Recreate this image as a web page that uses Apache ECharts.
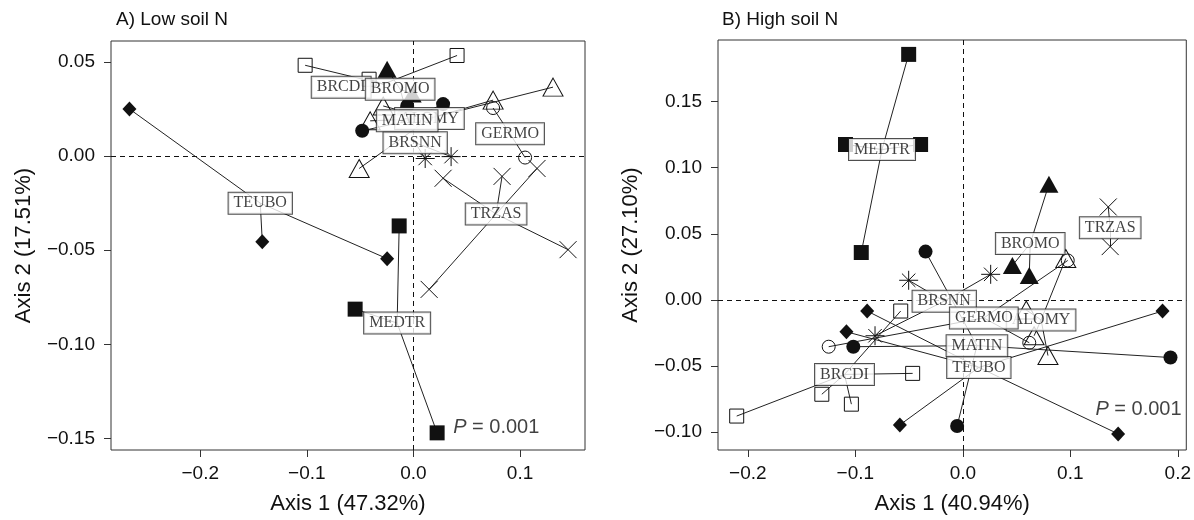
<!DOCTYPE html>
<html><head><meta charset="utf-8">
<script src="https://cdn.jsdelivr.net/npm/echarts@6/dist/echarts.min.js"></script>
<style>html,body{margin:0;padding:0;background:#fff}#c{width:1194px;height:520px}</style>
</head><body><div id="c"></div>
<script>
// ---------- DATA ----------
const species = ['ALOMY','BRCDI','BROMO','BRSNN','GERMO','MATIN','MEDTR','TEUBO','TRZAS'];

// A) Low soil N : species centroids (spoke centres) and label positions
const lowCentX  = [0.0150, -0.0284, -0.0125, 0.0016, 0.0906, -0.0059, -0.0153, -0.1437, 0.0775];
const lowCentY  = [0.0200, 0.0382, 0.0355, 0.0071, 0.0118, 0.0187, -0.0887, -0.0250, -0.0308];
const lowLabelX = [0.0150, -0.0678, -0.0125, 0.0016, 0.0906, -0.0059, -0.0153, -0.1437, 0.0775];
const lowLabelY = [0.0200, 0.0366, 0.0355, 0.0071, 0.0118, 0.0187, -0.0887, -0.0250, -0.0308];
// A) Low soil N : plot scores per species
const low_ALOMY = [[0.1309,0.0366],[0.0747,0.0297],[-0.0406,0.0187],[-0.0509,-0.0066],[-0.0284,0.0266]];
const low_BRCDI = [[-0.1016,0.0482],[0.0409,0.0534],[-0.0416,0.0408]];
const low_BROMO = [[-0.0247,0.0461],[-0.0078,0.0261],[-0.0012,0.0329]];
const low_BRSNN = [[0.0110,-0.0013],[0.0353,-0.0003]];
const low_GERMO = [[0.0747,0.0255],[0.1047,-0.0008]];
const low_MATIN = [[-0.0481,0.0134],[-0.0059,0.0266],[0.0278,0.0276]];
const low_MEDTR = [[-0.0134,-0.0371],[-0.0547,-0.0813],[0.0222,-0.1470]];
const low_TEUBO = [[-0.2664,0.0250],[-0.1418,-0.0455],[-0.0247,-0.0545]];
const low_TRZAS = [[0.0278,-0.0118],[0.0831,-0.0108],[0.1159,-0.0066],[0.1450,-0.0497],[0.0147,-0.0708]];

// B) High soil N : centroids and label positions
const highCentX  = [0.0728, -0.1101, 0.0627, -0.0173, 0.0195, 0.0131, -0.0752, 0.0149, 0.1371];
const highCentY  = [-0.0152, -0.0565, 0.0426, -0.0010, -0.0137, -0.0347, 0.1138, -0.0512, 0.0545];
const highLabelX = highCentX;
const highLabelY = highCentY;
// B) High soil N : plot scores per species
const high_ALOMY = [[0.0958,0.0313],[0.0792,-0.0422],[0.0663,-0.0272],[0.0590,-0.0077]];
const high_BRCDI = [[-0.0578,-0.0085],[-0.0467,-0.0557],[-0.1312,-0.0715],[-0.1037,-0.0790],[-0.2104,-0.0880]];
const high_BROMO = [[0.0801,0.0875],[0.0461,0.0260],[0.0618,0.0185]];
const high_BRSNN = [[-0.0504,0.0148],[0.0259,0.0193],[-0.0817,-0.0272]];
const high_GERMO = [[0.0976,0.0298],[0.0618,-0.0325],[-0.1248,-0.0355]];
const high_MATIN = [[-0.0347,0.0365],[0.1932,-0.0437],[-0.0053,-0.0955],[-0.1019,-0.0355]];
const high_MEDTR = [[-0.0504,0.1858],[-0.1092,0.1176],[-0.0393,0.1176],[-0.0945,0.0358]];
const high_TEUBO = [[-0.0890,-0.0085],[0.1858,-0.0085],[-0.0586,-0.0947],[0.1445,-0.1015],[-0.1083,-0.0242]];
const high_TRZAS = [[0.1353,0.0703],[0.1371,0.0403]];

// axis ticks and titles
const lowXTicks  = [-0.2, -0.1, 0.0, 0.1];
const lowYTicks  = [-0.15, -0.10, -0.05, 0.00, 0.05];
const highXTicks = [-0.2, -0.1, 0.0, 0.1, 0.2];
const highYTicks = [-0.10, -0.05, 0.00, 0.05, 0.10, 0.15];
const panelTitles = ['A) Low soil N', 'B) High soil N'];
const xNames = ['Axis 1 (47.32%)', 'Axis 1 (40.94%)'];
const yNames = ['Axis 2 (17.51%)', 'Axis 2 (27.10%)'];
const pValueText = ['P = 0.001', 'P = 0.001'];
const pValuePos = [[0.0372, -0.1440], [0.1233, -0.0833]];

// ---------- STYLE ----------
const SANS = "'Liberation Sans', Arial, Helvetica, sans-serif";
const SERIF = "'Liberation Serif', 'Times New Roman', serif";
const INK = '#111';
const ASTER = 'path://M10,0L10,20M0,10L20,10M2.93,2.93L17.07,17.07M2.93,17.07L17.07,2.93';
const CROSS = 'path://M0,0L20,20M0,20L20,0';
const symStyle = {
  ALOMY: {symbol:'triangle', size:[20,18], fill:false},
  BRCDI: {symbol:'rect', size:14, fill:false},
  BROMO: {symbol:'triangle', size:[19,17], fill:true},
  BRSNN: {symbol:ASTER, size:19, fill:false},
  GERMO: {symbol:'circle', size:13, fill:false},
  MATIN: {symbol:'circle', size:14, fill:true},
  MEDTR: {symbol:'rect', size:15, fill:true},
  TEUBO: {symbol:'diamond', size:[14,15], fill:true},
  TRZAS: {symbol:CROSS, size:17, fill:false}
};
// label drawing order (later = on top)
const labelOrder = ['BRCDI','ALOMY','TEUBO','BRSNN','TRZAS','MEDTR','GERMO','BROMO','MATIN'];

const lowPts = {ALOMY:low_ALOMY,BRCDI:low_BRCDI,BROMO:low_BROMO,BRSNN:low_BRSNN,GERMO:low_GERMO,MATIN:low_MATIN,MEDTR:low_MEDTR,TEUBO:low_TEUBO,TRZAS:low_TRZAS};
const highPts = {ALOMY:high_ALOMY,BRCDI:high_BRCDI,BROMO:high_BROMO,BRSNN:high_BRSNN,GERMO:high_GERMO,MATIN:high_MATIN,MEDTR:high_MEDTR,TEUBO:high_TEUBO,TRZAS:high_TRZAS};

function fmt(v, d) {
  const s = Math.abs(v).toFixed(d);
  return (v < -1e-9 ? '\u2212' : '') + s;
}

function panelSeries(idx, pts, cx, cy, lx, ly) {
  const out = [];
  const spokes = [];
  species.forEach((sp, i) => {
    pts[sp].forEach(p => spokes.push({coords: [[cx[i], cy[i]], p]}));
  });
  out.push({
    type: 'lines', coordinateSystem: 'cartesian2d', xAxisIndex: idx, yAxisIndex: idx,
    data: spokes, silent: true, z: 2,
    lineStyle: {color: '#222', width: 1, opacity: 1, curveness: 0}
  });
  // P value text + zero reference lines
  out.push({
    type: 'scatter', xAxisIndex: idx, yAxisIndex: idx, silent: true, z: 3,
    symbol: 'rect', symbolSize: 0.1, itemStyle: {color: 'rgba(0,0,0,0)'},
    data: [pValuePos[idx]],
    label: {
      show: true, position: 'right', distance: 0,
      formatter: () => '{i|P}' + pValueText[idx].slice(1),
      fontFamily: SANS, fontSize: 20, color: INK,
      rich: {i: {fontStyle: 'italic', fontFamily: SANS, fontSize: 20, color: INK}}
    },
    markLine: {
      silent: true, symbol: 'none', animation: false,
      label: {show: false},
      lineStyle: {type: [5, 4], color: '#111', width: 1},
      data: [{xAxis: 0}, {yAxis: 0}]
    }
  });
  species.forEach((sp) => {
    const st = symStyle[sp];
    out.push({
      type: 'scatter', xAxisIndex: idx, yAxisIndex: idx, silent: true, z: 4,
      symbol: st.symbol, symbolSize: st.size,
      itemStyle: st.fill
        ? {color: INK, borderColor: INK, borderWidth: 0, opacity: 1}
        : {color: 'rgba(0,0,0,0)', borderColor: INK, borderWidth: 1, opacity: 1},
      data: pts[sp]
    });
  });
  labelOrder.forEach((sp, k) => {
    const i = species.indexOf(sp);
    out.push({
      type: 'scatter', xAxisIndex: idx, yAxisIndex: idx, silent: true, z: 10 + k,
      symbol: 'rect', symbolSize: 0.1, itemStyle: {color: 'rgba(0,0,0,0)'},
      data: [[lx[i], ly[i]]],
      label: {
        show: true, position: 'inside', formatter: sp,
        fontFamily: SERIF, fontSize: 16, color: INK,
        backgroundColor: '#fff', borderColor: '#222', borderWidth: 1,
        padding: [3, 5, 2, 5]
      }
    });
  });
  return out;
}

function xAxisCfg(idx, min, max, ticks) {
  return {
    type: 'value', gridIndex: idx, min: min, max: max,
    name: xNames[idx], nameLocation: 'middle', nameGap: 43,
    nameTextStyle: {fontFamily: SANS, fontSize: 22, color: INK},
    axisLine: {show: false, onZero: false},
    splitLine: {show: false},
    axisTick: {show: true, inside: false, length: 7, customValues: ticks, lineStyle: {color: '#333', width: 1}},
    axisLabel: {show: true, margin: 14, customValues: ticks, fontFamily: SANS, fontSize: 19, color: INK,
      formatter: v => fmt(v, 1)}
  };
}
function yAxisCfg(idx, min, max, ticks) {
  return {
    type: 'value', gridIndex: idx, min: min, max: max,
    name: yNames[idx], nameLocation: 'middle', nameGap: 76, nameRotate: 90,
    nameTextStyle: {fontFamily: SANS, fontSize: 22, color: INK},
    axisLine: {show: false, onZero: false},
    splitLine: {show: false},
    axisTick: {show: true, inside: false, length: 7, customValues: ticks, lineStyle: {color: '#333', width: 1}},
    axisLabel: {show: true, margin: 16, customValues: ticks, fontFamily: SANS, fontSize: 19, color: INK,
      formatter: v => fmt(v, 2)}
  };
}

const option = {
  animation: false,
  backgroundColor: '#fff',
  title: [
    {text: panelTitles[0], left: 116, top: 10, padding: 0, textStyle: {fontFamily: SANS, fontSize: 19, fontWeight: 'normal', color: INK}},
    {text: panelTitles[1], left: 722, top: 10, padding: 0, textStyle: {fontFamily: SANS, fontSize: 19, fontWeight: 'normal', color: INK}}
  ],
  grid: [
    {left: 111, top: 41, width: 474, height: 413, show: true, borderColor: '#333', borderWidth: 1, containLabel: false},
    {left: 718, top: 40, width: 474, height: 413, show: true, borderColor: '#333', borderWidth: 1, containLabel: false}
  ],
  xAxis: [
    xAxisCfg(0, -0.2837, 0.1609, lowXTicks),
    xAxisCfg(1, -0.2278, 0.2079, highXTicks)
  ],
  yAxis: [
    yAxisCfg(0, -0.1561, 0.0611, lowYTicks),
    yAxisCfg(1, -0.1137, 0.1967, highYTicks)
  ],
  series: [
    ...panelSeries(0, lowPts, lowCentX, lowCentY, lowLabelX, lowLabelY),
    ...panelSeries(1, highPts, highCentX, highCentY, highLabelX, highLabelY)
  ]
};

const chart = echarts.init(document.getElementById('c'), null, {renderer: 'canvas'});
chart.setOption(option);
</script>
</body></html>
